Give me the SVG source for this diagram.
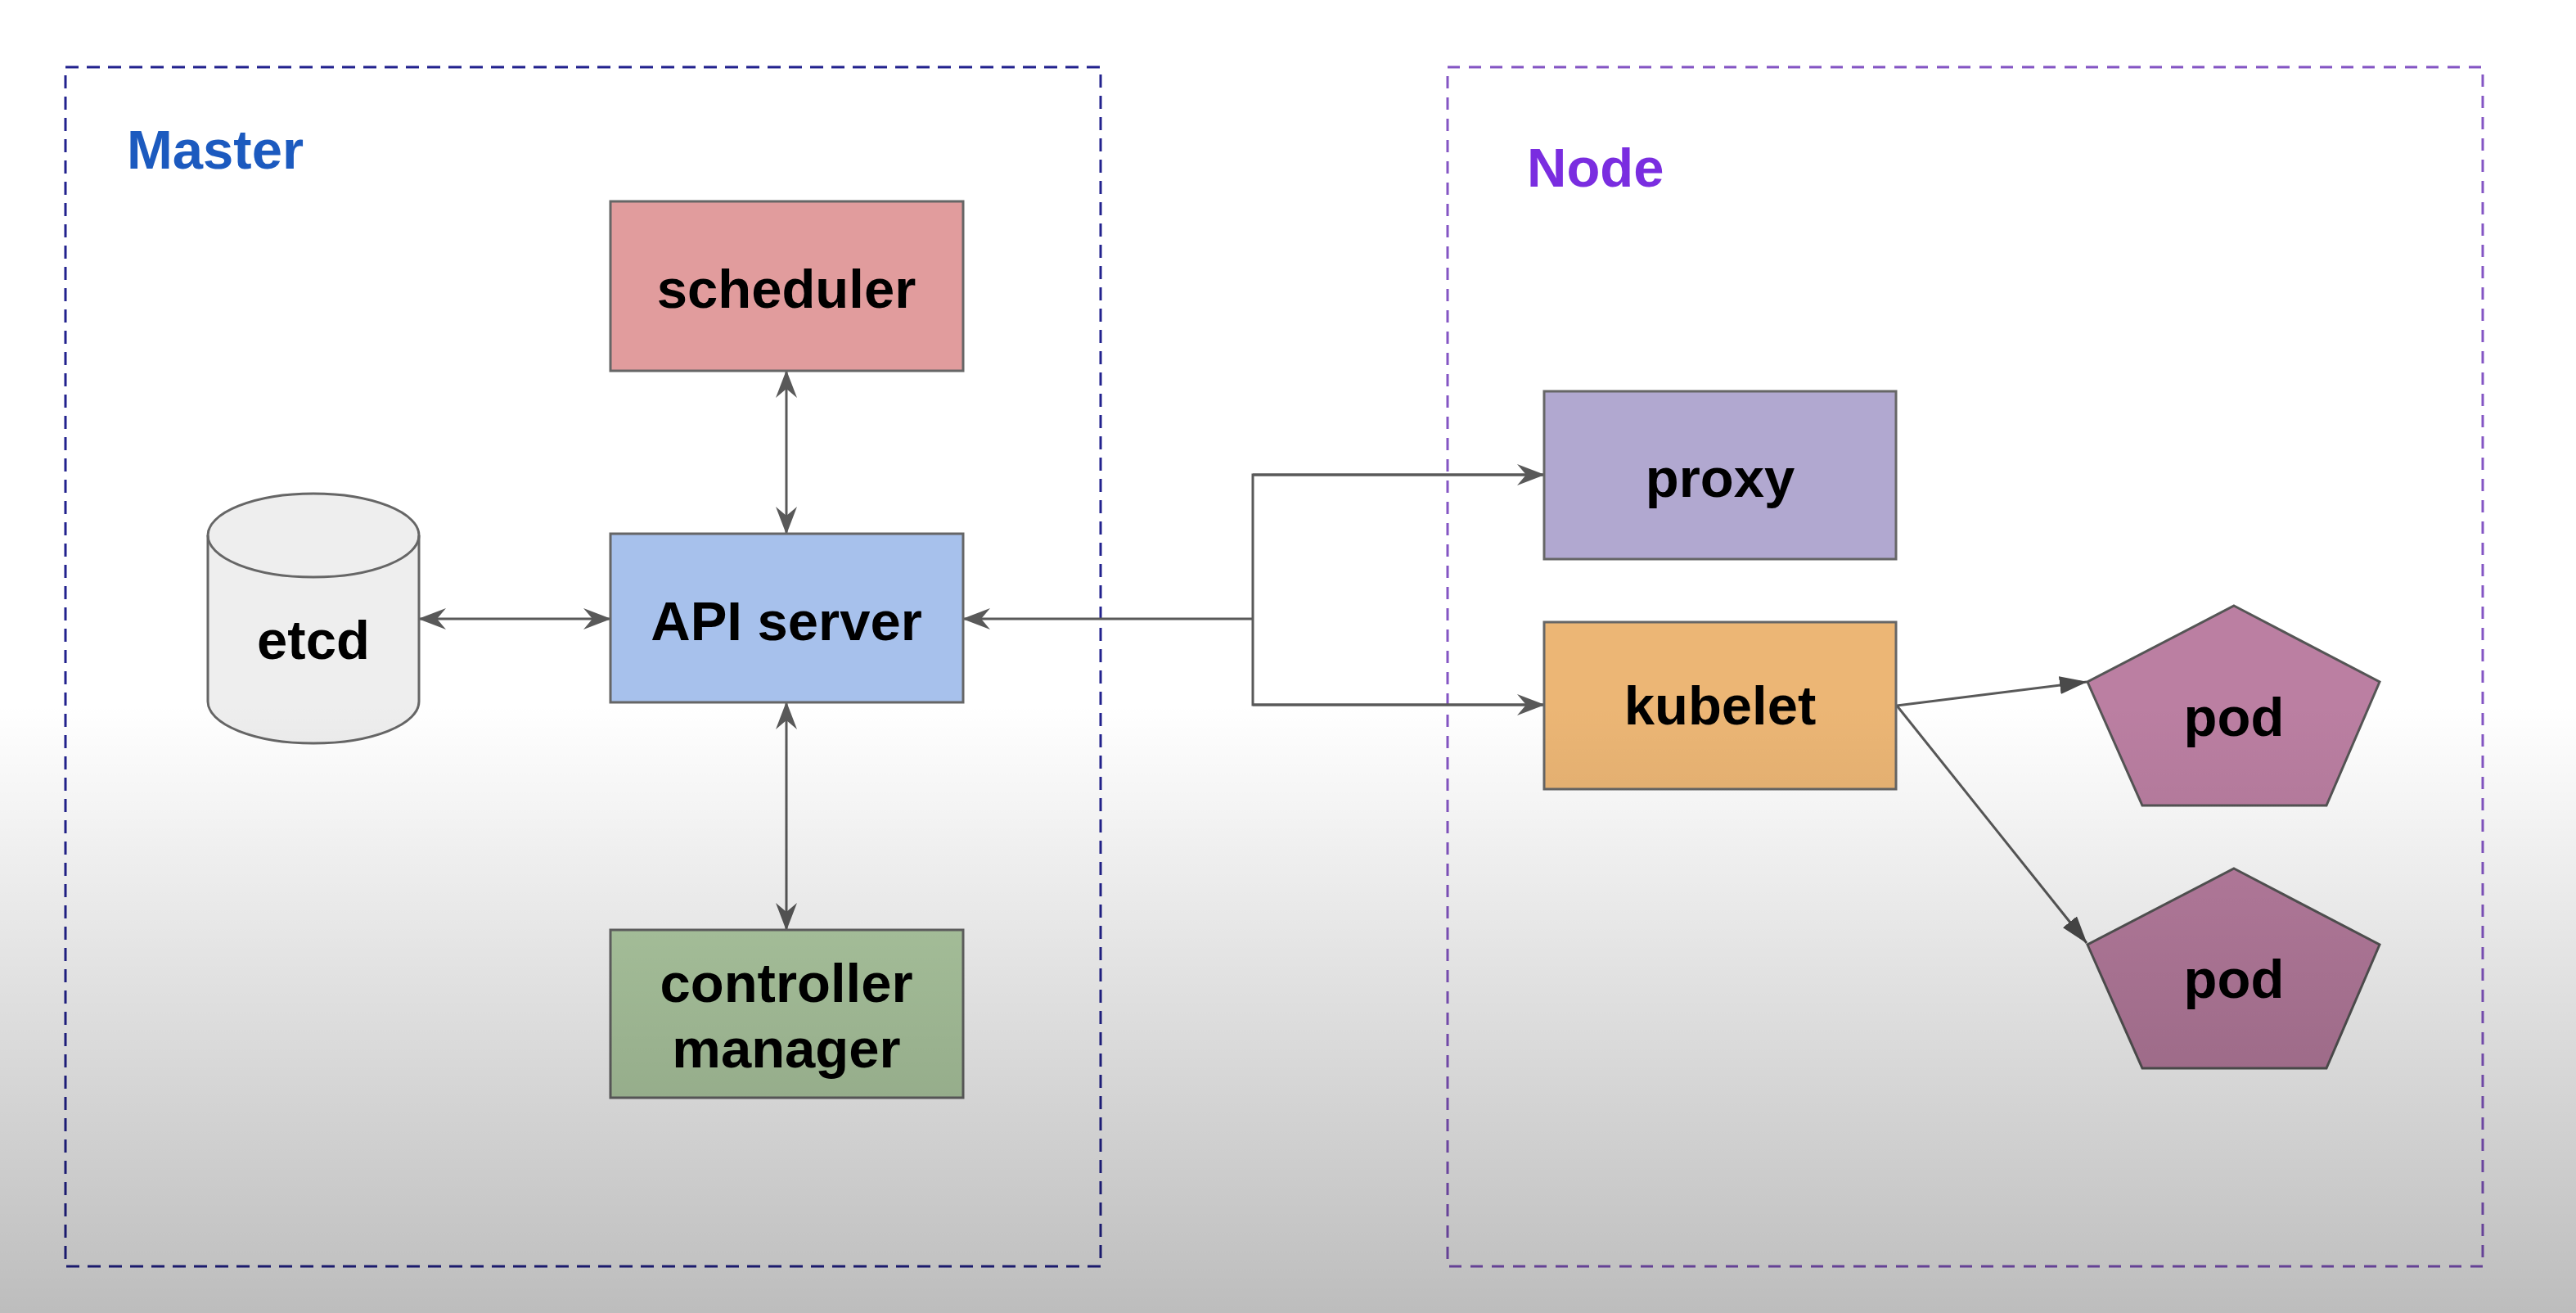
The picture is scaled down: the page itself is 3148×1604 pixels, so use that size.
<svg xmlns="http://www.w3.org/2000/svg" width="3148" height="1604" viewBox="0 0 3148 1604">
<defs>
<style>
.lbl{font-family:"Liberation Sans",Arial,sans-serif;font-weight:bold;font-size:67px;fill:#000;text-anchor:middle}
.title{font-family:"Liberation Sans",Arial,sans-serif;font-weight:bold;font-size:67px}
.box{stroke:#666;stroke-width:3}
.conn{fill:none;stroke:#595959;stroke-width:3}
</style>
<marker id="stealth" viewBox="0 0 34 26" refX="33" refY="13" markerWidth="34" markerHeight="26" markerUnits="userSpaceOnUse" orient="auto-start-reverse">
<path d="M0,0 L34,13 L0,26 L11,13 Z" fill="#595959"/>
</marker>
<marker id="tri" viewBox="0 0 34 22" refX="33" refY="11" markerWidth="34" markerHeight="22" markerUnits="userSpaceOnUse" orient="auto">
<path d="M0,0 L34,11 L0,22 Z" fill="#4a4a4a"/>
</marker>
<linearGradient id="shade" x1="0" y1="0" x2="0" y2="1" gradientUnits="objectBoundingBox">
<stop offset="0" stop-color="#000" stop-opacity="0"/>
<stop offset="1" stop-color="#000" stop-opacity="0.26"/>
</linearGradient>
</defs>
<rect x="0" y="0" width="3148" height="1604" fill="#ffffff"/>

<g id="master">
<rect x="80" y="82" width="1265" height="1465" fill="none" stroke="#22228e" stroke-width="3" stroke-dasharray="16 10"/>
<text class="title" x="155" y="206" fill="#1c5abf">Master</text>
</g>
<g id="node">
<rect x="1769" y="82" width="1265" height="1465" fill="none" stroke="#8455c4" stroke-width="3" stroke-dasharray="15 11"/>
<text class="title" x="1866" y="228" fill="#7a2de0">Node</text>
</g>

<g id="connectors">
<line class="conn" x1="961" y1="453" x2="961" y2="652" marker-start="url(#stealth)" marker-end="url(#stealth)"/>
<line class="conn" x1="961" y1="858" x2="961" y2="1136" marker-start="url(#stealth)" marker-end="url(#stealth)"/>
<line class="conn" x1="512" y1="756" x2="746" y2="756" marker-start="url(#stealth)" marker-end="url(#stealth)"/>
<line class="conn" x1="1531" y1="756" x2="1177" y2="756" marker-end="url(#stealth)"/>
<polyline class="conn" points="1887,580 1531,580 1531,861 1887,861"/>
<line class="conn" x1="1531" y1="580" x2="1887" y2="580" marker-end="url(#stealth)"/>
<line class="conn" x1="1531" y1="861" x2="1887" y2="861" marker-end="url(#stealth)"/>
<line class="conn" x1="2318" y1="862" x2="2550" y2="833" stroke="#4a4a4a" marker-end="url(#tri)"/>
<line class="conn" x1="2318" y1="862" x2="2550" y2="1152" stroke="#4a4a4a" marker-end="url(#tri)"/>
</g>

<g id="scheduler">
<rect class="box" x="746" y="246" width="431" height="207" fill="#e19c9d"/>
<text class="lbl" x="961" y="376">scheduler</text>
</g>
<g id="api-server">
<rect class="box" x="746" y="652" width="431" height="206" fill="#a7c1ec"/>
<text class="lbl" x="961" y="782">API server</text>
</g>
<g id="controller-manager">
<rect class="box" x="746" y="1136" width="431" height="205" fill="#b4d0a7"/>
<text class="lbl" x="961" y="1224">controller</text>
<text class="lbl" x="961" y="1304">manager</text>
</g>
<g id="etcd">
<path d="M254,654 L254,857 A129,51 0 0 0 512,857 L512,654 A129,51 0 0 0 254,654 Z" fill="#eeeeee" stroke="#666" stroke-width="3"/>
<path d="M254,654 A129,51 0 0 0 512,654" fill="none" stroke="#666" stroke-width="3"/>
<text class="lbl" x="383" y="805">etcd</text>
</g>
<g id="proxy">
<rect class="box" x="1887" y="478" width="430" height="205" fill="#b1a8d0"/>
<text class="lbl" x="2102" y="607">proxy</text>
</g>
<g id="kubelet">
<rect class="box" x="1887" y="760" width="430" height="204" fill="#ecb675"/>
<text class="lbl" x="2102" y="885">kubelet</text>
</g>
<g id="pod1">
<polygon points="2730,740 2908,833 2843,984 2618,984 2551,833" fill="#bb7fa2" stroke="#555" stroke-width="3"/>
<text class="lbl" x="2730" y="899">pod</text>
</g>
<g id="pod2">
<polygon points="2730,1061 2908,1154 2843,1305 2618,1305 2551,1154" fill="#bb7fa2" stroke="#555" stroke-width="3"/>
<text class="lbl" x="2730" y="1219">pod</text>
</g>

<rect x="0" y="860" width="3148" height="744" fill="url(#shade)" pointer-events="none"/>
</svg>
